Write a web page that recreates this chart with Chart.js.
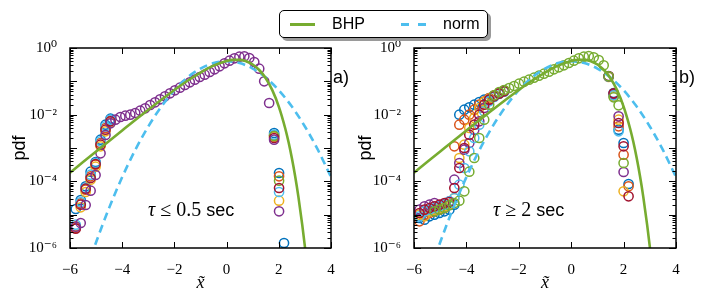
<!DOCTYPE html>
<html>
<head>
<meta charset="utf-8">
<script src="https://cdn.jsdelivr.net/npm/chart.js@4/dist/chart.umd.min.js"></script>
<style>
	html,body{margin:0;padding:0;background:#fff;}
	#wrap{position:relative;width:706px;height:303px;overflow:hidden;font-family:"Liberation Sans",Arial,sans-serif;color:#000;}
	#cA{position:absolute;left:0;top:0;}
	#cB{position:absolute;left:350px;top:0;}
	.legend{position:absolute;left:279px;top:10px;width:209px;height:28px;box-sizing:border-box;border:1.5px solid #000;border-radius:5px;background:#fff;box-shadow:3px 3px 0 #9a9a9a;font-size:16px;}
	.legend .sw{position:absolute;top:12px;height:3px;}
	.legend .lab{position:absolute;top:4px;line-height:18px;}
	.tag{position:absolute;font-size:18px;line-height:20px;}
	.note{position:absolute;font-size:18px;line-height:22px;white-space:nowrap;}
	.note .m{font-family:"Liberation Serif","DejaVu Serif",serif;font-size:20px;}
	.note .i{font-style:italic;}
</style>
</head>
<body>
<div id="wrap">
	<canvas id="cA" width="350" height="303"></canvas>
	<canvas id="cB" width="356" height="303"></canvas>
	<div class="legend">
		<div class="sw" style="left:10px;width:25px;background:#77AC30;"></div>
		<div class="lab" style="left:52px;">BHP</div>
		<div class="sw" style="left:121px;width:8px;background:#4DBEEE;"></div>
		<div class="sw" style="left:138px;width:8px;background:#4DBEEE;"></div>
		<div class="lab" style="left:163px;">norm</div>
	</div>
	<div class="tag" style="left:333px;top:67px;">a)</div>
	<div class="tag" style="left:679px;top:67px;">b)</div>
	<div class="note" style="left:148px;top:198px;"><span class="m i">τ</span><span class="m"> ≤ 0.5</span> sec</div>
	<div class="note" style="left:493px;top:198px;"><span class="m i">τ</span><span class="m"> ≥ 2</span> sec</div>
</div>
<script>
// --- curvas (pdf) ---
const bhpX = [-6,-5.5,-5,-4.5,-4,-3.5,-3,-2.5,-2,-1.5,-1,-0.5,0,0.25,0.5,0.75,1,1.25,1.5,1.75,2,2.25,2.375,2.5,2.625,2.75,2.9,3,3.1];
const bhpY = [1.82e-4,3.78e-4,7.85e-4,1.63e-3,3.36e-3,6.90e-3,1.40e-2,2.81e-2,5.50e-2,0.104,0.184,0.296,0.408,0.440,0.440,0.399,0.320,0.219,0.124,0.0544,0.0175,3.79e-3,1.48e-3,4.98e-4,1.44e-4,3.49e-5,4.86e-6,1.10e-6,2.1e-7];
const normX = [-5.2,-5,-4.5,-4,-3.5,-3,-2.5,-2,-1.5,-1,-0.5,0,0.5,1,1.5,2,2.5,3,3.5,4];
const normY = [5.36e-7,1.49e-6,1.60e-5,1.34e-4,8.73e-4,4.43e-3,1.75e-2,5.40e-2,0.130,0.242,0.352,0.399,0.352,0.242,0.130,0.0540,0.0175,4.43e-3,8.73e-4,1.34e-4];

const xTicks = [-6,-4,-2,0,2,4];
const yTicks = [1e-6,1e-4,1e-2,1];

// --- painel a) : log10(pdf) lido do eixo log ---
const gridA = [-5.78,-5.59,-5.40,-5.21,-5.02,-4.83,-4.64,-4.45,-4.26,-4.07,-3.88,-3.69,-3.50,-3.31,-3.12,-2.93,-2.74,-2.55,-2.36,-2.17,-1.98,-1.79,-1.60,-1.41,-1.22,-1.03,-0.84,-0.65,-0.46,-0.27,-0.08,0.11,0.30,0.49,0.68,0.87,1.06,1.25,1.44,1.63,1.82,2.01,2.20];
const aPurple = [-5.36,-5.25,-4.71,-4.28,-3.81,-3.16,-2.61,-2.26,-2.15,-2.07,-2.03,-2.00,-1.95,-1.88,-1.81,-1.71,-1.63,-1.54,-1.45,-1.36,-1.27,-1.19,-1.11,-1.03,-0.95,-0.87,-0.80,-0.72,-0.64,-0.55,-0.46,-0.38,-0.31,-0.26,-0.25,-0.30,-0.42,-0.62,-1.00,-1.65,-2.75,-4.90,null];
// cauda (8 primeiros pontos da grade) e corte (1.82, 2.01, 2.20)
const aBlueTail   = [-4.83,-4.56,-4.15,-3.71,-3.42,-2.75,-2.30,-2.12];
const aOrangeTail = [-5.40,-4.66,-4.25,-3.85,-3.50,-2.85,-2.40,-2.18];
const aYellowTail = [-5.35,-4.78,-4.32,-3.95,-3.56,-2.95,-2.50,-2.24];
const aTealTail   = [-5.30,-4.62,-4.20,-3.80,-3.45,-2.80,-2.35,-2.15];
const aRedTail    = [-5.42,-4.70,-4.22,-3.90,-3.48,-2.90,-2.45,-2.20];
const aBlueCut    = [-2.55,-3.75,-5.85];
const aOrangeCut  = [-2.62,-3.85,null];
const aYellowCut  = [-2.66,-4.58,null];
const aTealCut    = [-2.60,-4.32,null];
const aGreenCut   = [-2.64,-3.98,null];
const aRedCut     = [-2.70,-4.20,null];

// --- painel b) ---
const gridB = [-5.79,-5.60,-5.41,-5.22,-5.03,-4.84,-4.65,-4.46,-4.27,-4.08,-3.89,-3.70,-3.51,-3.32,-3.13,-2.94,-2.75,-2.56,-2.37,-2.18,-1.99,-1.80,-1.61,-1.42,-1.23,-1.04,-0.85,-0.66,-0.47,-0.28,-0.09,0.10,0.29,0.48,0.67,0.86,1.05,1.24,1.43,1.62,1.81,2.00,2.19];
const bGreen = [null,null,null,-4.90,-4.85,-4.80,-4.72,-4.65,-4.58,-4.30,-3.71,-3.30,-2.70,-2.15,-1.70,-1.42,-1.32,-1.26,-1.20,-1.14,-1.07,-1.01,-0.95,-0.89,-0.83,-0.77,-0.71,-0.64,-0.58,-0.52,-0.45,-0.38,-0.31,-0.26,-0.24,-0.28,-0.36,-0.52,-0.85,-1.48,-1.72,-3.45,null];
// parte baixa (18 primeiros pontos) e corte (1.43 .. 2.19)
const bBlueLow   = [-5.10,-5.15,-5.05,-5.00,-4.95,-4.90,-4.85,-4.70,-2.00,-1.85,-1.78,-1.70,-1.62,-1.55,-1.50,-1.42,-1.35,-1.28];
const bOrangeLow = [-5.20,-5.00,-4.95,-4.90,-4.85,-4.80,-4.70,-2.95,-2.30,-2.15,-2.00,-1.85,-1.70,-1.60,-1.50,-1.42,-1.34,-1.27];
const bYellowLow = [-5.00,-5.05,-4.90,-4.85,-4.80,-4.75,-4.70,-4.50,-3.30,-2.90,-2.40,-2.10,-1.80,-1.62,-1.52,-1.43,-1.35,-1.29];
const bPurpleLow = [-4.85,-4.75,-4.70,-4.65,-4.72,-4.68,-4.60,-3.95,-3.45,-3.05,-2.85,-2.45,-2.20,-1.80,-1.55,-1.45,-1.36,-1.30];
const bTealLow   = [-5.05,-4.90,-4.85,-4.80,-4.75,-4.70,-4.60,-4.50,-4.10,-3.60,-3.10,-2.70,-2.30,-1.90,-1.60,-1.47,-1.38,-1.31];
const bRedLow    = [-4.95,-4.85,-4.80,-4.75,-4.70,-4.65,-4.62,-4.20,-3.60,-3.00,-2.60,-2.30,-2.00,-1.70,-1.55,-1.45,-1.37,-1.30];
const bBlueCut   = [-0.86,-1.35,-2.45,-2.85,-4.08];
const bOrangeCut = [-0.85,-1.40,-2.35,-3.20,-4.15];
const bYellowCut = [-0.87,-1.45,-2.15,-4.30,null];
const bPurpleCut = [-0.84,-1.38,-2.05,-3.72,null];
const bTealCut   = [-0.86,-1.42,-2.50,null,null];
const bRedCut    = [-0.85,-1.36,-2.25,-2.95,-4.45];

const C = { blue:'#0072BD', orange:'#D95319', yellow:'#EDB120', purple:'#7E2F8E', green:'#77AC30', teal:'#4DBEEE', red:'#A2142F' };

function pts(xs, logs){ const out=[]; logs.forEach((v,i)=>{ if(v!==null && v!==undefined) out.push({x:xs[i], y:Math.pow(10,v)}); }); return out; }
function xy(xs, ys){ return xs.map((x,i)=>({x, y:ys[i]})); }

function circles(color, data){
	return { data, borderColor:color, backgroundColor:'transparent', pointRadius:4.6, pointHoverRadius:4.6, pointBorderWidth:1.5, borderWidth:1.5, showLine:false };
}
function curves(){
	return [
		{ data:xy(bhpX,bhpY), borderColor:C.green, borderWidth:2.6, pointRadius:0, showLine:true, cubicInterpolationMode:'monotone', fill:false },
		{ data:xy(normX,normY), borderColor:C.teal, borderWidth:2.6, borderDash:[8,5], pointRadius:0, showLine:true, cubicInterpolationMode:'monotone', fill:false }
	];
}

const supMap = {'0':'⁰','1':'¹','2':'²','3':'³','4':'⁴','5':'⁵','6':'⁶','7':'⁷','8':'⁸','9':'⁹','-':'⁻'};

// moldura + ticks para dentro (estilo matplotlib)
const frameTicks = {
	id:'frameTicks',
	afterDatasetsDraw(chart){
		const {ctx, chartArea:a, scales:{x,y}} = chart;
		ctx.save();
		ctx.strokeStyle = '#000';
		ctx.lineWidth = 1;
		const seg = (x1,y1,x2,y2)=>{ ctx.beginPath(); ctx.moveTo(x1,y1); ctx.lineTo(x2,y2); ctx.stroke(); };
		for (const v of xTicks){
			const px = Math.round(x.getPixelForValue(v))+0.5;
			seg(px,a.bottom,px,a.bottom-6); seg(px,a.top,px,a.top+6);
		}
		for (let e=-6;e<=0;e++){
			for (let m=1;m<10;m++){
				if (e===0 && m>1) break;
				const py = Math.round(y.getPixelForValue(m*Math.pow(10,e)))+0.5;
				const len = m===1 ? 7 : 3.5;
				seg(a.left,py,a.left+len,py); seg(a.right,py,a.right-len,py);
			}
		}
		ctx.lineWidth = 1.5;
		ctx.strokeRect(a.left, a.top, a.right-a.left, a.bottom-a.top);
		ctx.restore();
	}
};

function makeChart(el, datasets, pad, yWidth){
	return new Chart(el.getContext('2d'), {
		type:'scatter',
		data:{ datasets },
		options:{
			responsive:false, animation:false, events:[],
			layout:{ padding:pad },
			plugins:{ legend:{display:false}, tooltip:{enabled:false} },
			scales:{
				x:{
					type:'linear', min:-6, max:4,
					grid:{display:false}, border:{display:false},
					afterBuildTicks(s){ s.ticks = xTicks.map(v=>({value:v})); },
					afterFit(s){ s.height = 55; },
					ticks:{ color:'#000', padding:5, font:{family:'"Liberation Serif", "DejaVu Serif", serif', size:15}, callback:(v)=> String(v).replace('-','−') },
					title:{ display:true, text:'x̃', color:'#000', padding:{top:0,bottom:9}, font:{family:'"Liberation Serif", "DejaVu Serif", serif', size:18, style:'italic'} }
				},
				y:{
					type:'logarithmic', min:1e-6, max:1,
					grid:{display:false}, border:{display:false},
					afterBuildTicks(s){ s.ticks = yTicks.map(v=>({value:v})); },
					afterFit(s){ s.width = yWidth; },
					ticks:{ color:'#000', padding:5, font:{family:'"Liberation Serif", "DejaVu Serif", serif', size:15},
						callback:(v)=> '10' + String(Math.round(Math.log10(v))).split('').map(c=>supMap[c]).join('') },
					title:{ display:true, text:'pdf', color:'#000', padding:{top:1,bottom:0}, font:{family:'"Liberation Sans", Arial, sans-serif', size:18} }
				}
			}
		},
		plugins:[frameTicks]
	});
}

const tailA = gridA.slice(0,8), cutA = gridA.slice(40);
const dsA = curves().concat([
	circles(C.purple, pts(gridA, aPurple)),
	circles(C.red,    pts(tailA, aRedTail).concat(pts(cutA, aRedCut))),
	circles(C.green,  pts(cutA, aGreenCut)),
	circles(C.teal,   pts(tailA, aTealTail).concat(pts(cutA, aTealCut))),
	circles(C.yellow, pts(tailA, aYellowTail).concat(pts(cutA, aYellowCut))),
	circles(C.orange, pts(tailA, aOrangeTail).concat(pts(cutA, aOrangeCut))),
	circles(C.blue,   pts(tailA, aBlueTail).concat(pts(cutA, aBlueCut)))
]);

const lowB = gridB.slice(0,18), cutB = gridB.slice(38);
const dsB = curves().concat([
	circles(C.green,  pts(gridB, bGreen)),
	circles(C.red,    pts(lowB, bRedLow).concat(pts(cutB, bRedCut))),
	circles(C.teal,   pts(lowB, bTealLow).concat(pts(cutB, bTealCut))),
	circles(C.purple, pts(lowB, bPurpleLow).concat(pts(cutB, bPurpleCut))),
	circles(C.yellow, pts(lowB, bYellowLow).concat(pts(cutB, bYellowCut))),
	circles(C.orange, pts(lowB, bOrangeLow).concat(pts(cutB, bOrangeCut))),
	circles(C.blue,   pts(lowB, bBlueLow).concat(pts(cutB, bBlueCut)))
]);

makeChart(document.getElementById('cA'), dsA, {left:8, right:19, top:48, bottom:0}, 62);
makeChart(document.getElementById('cB'), dsB, {left:4, right:30, top:48, bottom:0}, 60);
</script>
</body>
</html>
